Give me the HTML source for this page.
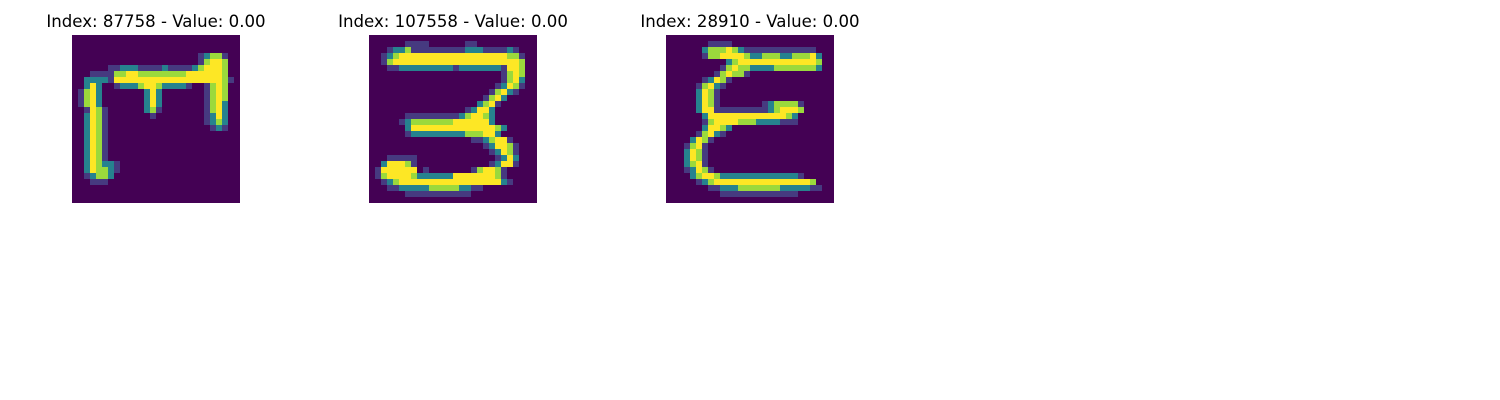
<!DOCTYPE html>
<html><head><meta charset="utf-8"><style>
html,body{margin:0;padding:0;background:#fff;width:1500px;height:400px;overflow:hidden}
svg{display:block}
text{font-family:"DejaVu Sans","Liberation Sans",sans-serif;font-size:16.6px;fill:#000}
</style></head><body>
<svg id="fig" width="1500" height="400" viewBox="0 0 1500 400" xmlns="http://www.w3.org/2000/svg"></svg>
<script>
const titles = ["Index: 87758 - Value: 0.00","Index: 107558 - Value: 0.00","Index: 28910 - Value: 0.00"];
const panelX = [72,369,666];
// sparse rows: "startCol|levels;startCol|levels" (levels 0-4)
const img1 = {3:"21|12331",4:"21|13443",5:"6|11222111121111;20|234443",6:"3|111;6|13344333333334444443",
7:"2|2222;6|144444444444444444431",8:"2|242;7|1222344322221;22|1343",9:"1|1342;12|242;22|1343",10:"1|1342;12|242;22|1343",
11:"1|1342;12|242;22|1342",12:"2|1431;12|231;22|1342",13:"2|2431;13|1;22|1242",14:"2|2431;22|1232",15:"2|2431;23|121",
16:"2|2431",17:"2|2431",18:"2|2431",19:"2|2431",20:"2|2431",21:"2|243221",22:"2|243321",23:"2|12332",24:"3|111"};
const img2 = {1:"6|1111;16|11",2:"3|1223111111111222111121",3:"2|123444444444444444444331",4:"2|134444444444444444444443",
5:"3|11222222222122222221;23|443",6:"22|1343",7:"22|1342",8:"21|12431",9:"20|13421",10:"19|1342",11:"18|2341",12:"16|12442",
13:"6|111111111234432",14:"5|1233333334444442",15:"6|24444444444444432",16:"6|1222222222333442",17:"17|1123441",18:"19|124431",
19:"20|12431",20:"3|11111;21|1242",21:"2|244431;20|12441",22:"1|1444444;9|1;17|134431",23:"1|1344443222222444444431",
24:"2|1234444444444444444421",25:"3|1122222333332211",26:"6|11111111111"};
const img3 = {1:"7|1111",2:"6|2333432;13|111111111111",3:"6|13344443223332233342",4:"10|2344444444444443",
5:"9|13433222233333332",6:"8|134331",7:"6|12431",8:"5|13421",9:"5|2431",10:"5|2431",11:"5|2431;16|1233331",
12:"5|2441;9|11111111;17|234443",13:"6|2444444444444432",14:"6|1344443332222111",15:"6|24432",16:"5|13421",17:"4|2431",
18:"3|1341",19:"3|2431",20:"3|2431",21:"3|2341",22:"3|12431",23:"4|2344322222222222221",24:"5|12344444444444444443",
25:"7|1122233333332222211",26:"9|1111111111111"};
const images = [img1,img2,img3];
const palette = ["#440154","#463a80","#26828e","#9bd93c","#fde725"];
const NS="http://www.w3.org/2000/svg";
const svg=document.getElementById('fig');
const cell=6, top0=35, n=28;
images.forEach((img,k)=>{
  const g=document.createElementNS(NS,'g');
  
  
  g.setAttribute('shape-rendering','crispEdges');
  const bg=document.createElementNS(NS,'rect');
  bg.setAttribute('x',panelX[k]);bg.setAttribute('y',top0);
  bg.setAttribute('width',n*cell);bg.setAttribute('height',n*cell);
  bg.setAttribute('fill',palette[0]);
  g.appendChild(bg);
  for(const r in img){
    img[r].split(';').forEach(seg=>{
      const [s,v]=seg.split('|');
      for(let i=0;i<v.length;i++){
        const c=+s+i, lv=+v[i];
        if(lv===0||c>=n) continue;
        const rc=document.createElementNS(NS,'rect');
        
        
        rc.setAttribute('x',panelX[k]+c*cell);rc.setAttribute('y',top0+(+r)*cell);
        rc.setAttribute('width',cell);rc.setAttribute('height',cell);
        rc.setAttribute('fill',palette[lv]);
        g.appendChild(rc);
      }
    });
  }
  svg.appendChild(g);
  const t=document.createElementNS(NS,'text');
  
  
  t.setAttribute('x',panelX[k]+n*cell/2);t.setAttribute('y',27);
  t.setAttribute('text-anchor','middle');
  t.textContent=titles[k];
  svg.appendChild(t);
});
</script>
</body></html>
